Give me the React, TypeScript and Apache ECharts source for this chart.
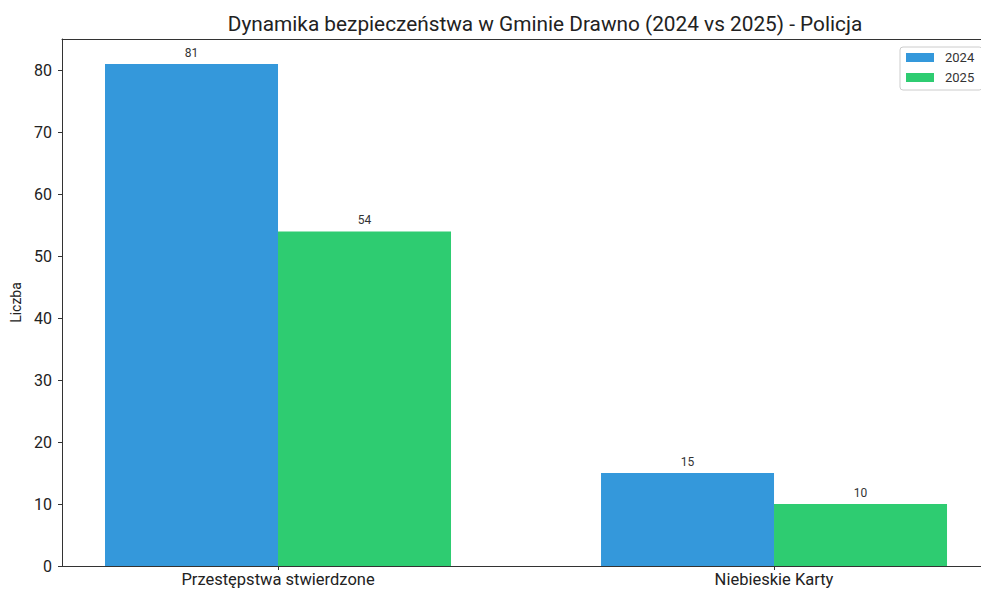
import React, { useEffect, useRef } from "react";
import * as echarts from "echarts";

const TITLE = "Dynamika bezpieczeństwa w Gminie Drawno (2024 vs 2025) - Policja";
const categories = ["Przestępstwa stwierdzone", "Niebieskie Karty"];
const categoryPositions = [0, 1];
const seriesNames = ["2024", "2025"];
const values2024 = [81, 15];
const values2025 = [54, 10];
const yTicks = [0, 10, 20, 30, 40, 50, 60, 70, 80];
const yAxisName = "Liczba";

const FONT = "Roboto";

export default function App() {
  const ref = useRef<HTMLDivElement>(null);
  useEffect(() => {
    if (!ref.current) return;
    const chart = echarts.init(ref.current, null, { renderer: "svg" });
    const spine = { color: "#333", width: 1 };
    const xMin = -0.4355;
    const xMax = 1.4173;
    const labelStyle = {
      show: true,
      position: "top",
      distance: 5,
      fontFamily: FONT,
      fontSize: 12,
      color: "#333",
    };
    chart.setOption({
      animation: false,
      backgroundColor: "#fff",
      title: {
        text: TITLE,
        left: 540,
        top: 8,
        textAlign: "center",
        textStyle: { fontFamily: FONT, fontSize: 20.8, fontWeight: "normal", color: "#222" },
      },
      legend: {
        data: seriesNames,
        orient: "vertical",
        left: 900,
        top: 47,
        itemWidth: 28,
        itemHeight: 9,
        itemGap: 7,
        icon: "rect",
        borderColor: "#ccc",
        borderWidth: 1,
        borderRadius: 3,
        padding: [4, 8, 6, 6],
        textStyle: { fontFamily: FONT, fontSize: 13, color: "#333", padding: [0, 0, 0, 6] },
      },
      grid: { left: 62, right: 0, top: 39, bottom: 24, containLabel: false },
      xAxis: [
        {
          type: "value",
          min: xMin,
          max: xMax,
          position: "bottom",
          splitLine: { show: false },
          axisLine: { show: true, onZero: false, lineStyle: spine },
          axisTick: { show: true, length: 4, customValues: categoryPositions, lineStyle: spine },
          axisLabel: {
            customValues: categoryPositions,
            formatter: (v: number) => categories[categoryPositions.indexOf(v)] ?? "",
            fontFamily: FONT,
            fontSize: 16.5,
            color: "#222",
            margin: 5,
          },
        },
        {
          type: "value",
          min: xMin,
          max: xMax,
          position: "top",
          splitLine: { show: false },
          axisLine: { show: true, onZero: false, lineStyle: spine },
          axisTick: { show: false },
          axisLabel: { show: false },
        },
      ],
      yAxis: {
        type: "value",
        min: 0,
        max: 85.05,
        name: yAxisName,
        nameLocation: "middle",
        nameRotate: 90,
        nameGap: 35,
        nameTextStyle: { fontFamily: FONT, fontSize: 14, color: "#222" },
        splitLine: { show: false },
        axisLine: { show: true, onZero: false, lineStyle: spine },
        axisTick: { show: true, length: 4, customValues: yTicks, lineStyle: spine },
        axisLabel: {
          customValues: yTicks,
          fontFamily: FONT,
          fontSize: 16,
          color: "#222",
          margin: 10,
        },
      },
      series: [
        {
          name: seriesNames[0],
          type: "bar",
          xAxisIndex: 0,
          data: categoryPositions.map((p, i) => [p, values2024[i]]),
          barWidth: 173,
          barGap: "0%",
          itemStyle: { color: "#3498db" },
          label: labelStyle,
        },
        {
          name: seriesNames[1],
          type: "bar",
          xAxisIndex: 0,
          data: categoryPositions.map((p, i) => [p, values2025[i]]),
          barWidth: 173,
          barGap: "0%",
          itemStyle: { color: "#2ecc71" },
          label: labelStyle,
        },
      ],
    });
    return () => chart.dispose();
  }, []);
  return (
    <div
      ref={ref}
      style={{ position: "absolute", left: 0, top: 0, width: 981, height: 590 }}
    />
  );
}
